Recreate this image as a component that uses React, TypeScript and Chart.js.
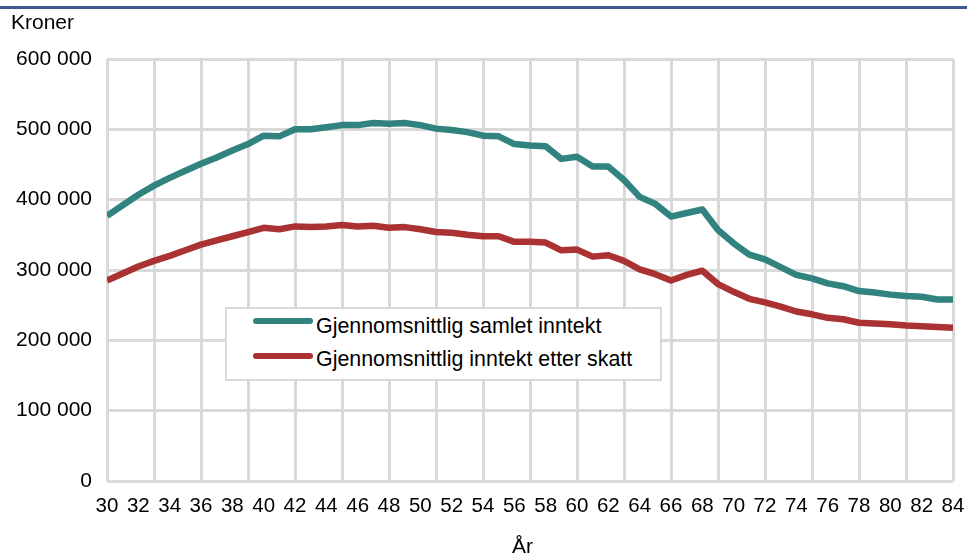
import React, { useEffect, useRef } from 'react';
import { Chart, registerables } from 'chart.js';

Chart.register(...registerables);

const ages = [
  30, 31, 32, 33, 34, 35, 36, 37, 38, 39, 40, 41, 42, 43, 44, 45, 46, 47, 48, 49,
  50, 51, 52, 53, 54, 55, 56, 57, 58, 59, 60, 61, 62, 63, 64, 65, 66, 67, 68, 69,
  70, 71, 72, 73, 74, 75, 76, 77, 78, 79, 80, 81, 82, 83, 84,
];

const samletInntekt = [
  377000, 392000, 407000, 420000, 431000, 441000, 451000, 460000, 470000, 479000,
  491000, 490000, 500000, 500000, 503000, 506000, 506000, 509000, 508000, 509000,
  506000, 501000, 499000, 496000, 491000, 490000, 479000, 477000, 476000, 458000,
  461000, 447000, 447000, 428000, 404000, 394000, 376000, 381000, 386000, 357000,
  338000, 322000, 315000, 304000, 293000, 288000, 281000, 277000, 270000, 268000,
  265000, 263000, 262000, 258000, 258000,
];

const etterSkatt = [
  285000, 295000, 305000, 313000, 320000, 328000, 336000, 342000, 348000, 354000,
  360000, 358000, 362000, 361000, 362000, 364000, 362000, 363000, 360000, 361000,
  358000, 354000, 353000, 350000, 348000, 348000, 340000, 340000, 339000, 328000,
  329000, 319000, 321000, 313000, 301000, 294000, 285000, 293000, 299000, 280000,
  269000, 259000, 254000, 248000, 241000, 237000, 232000, 230000, 225000, 224000,
  223000, 221000, 220000, 219000, 218000,
];

const seriesLabels = ['Gjennomsnittlig samlet inntekt', 'Gjennomsnittlig inntekt etter skatt'];
const seriesColors = ['#31837f', '#aa3232'];
const yUnitLabel = 'Kroner';
const xAxisLabel = 'År';
const yMin = 0;
const yMax = 600000;
const yStep = 100000;
const xLabelStep = 2;
const xGridStep = 3;

const FONT = '"Liberation Sans", Arial, sans-serif';
const GRID = '#d9d9d9';

function formatKr(v: number): string {
  return String(Math.round(v)).replace(/\B(?=(\d{3})+(?!\d))/g, ' ');
}

export default function App() {
  const canvasRef = useRef<HTMLCanvasElement | null>(null);

  useEffect(() => {
    const canvas = canvasRef.current;
    if (!canvas) return;
    const firstAge = ages[0];
    const chart = new Chart(canvas, {
      type: 'line',
      data: {
        datasets: [samletInntekt, etterSkatt].map((series, i) => ({
          label: seriesLabels[i],
          data: series.map((y, j) => ({ x: ages[j], y })),
          borderColor: seriesColors[i],
          backgroundColor: seriesColors[i],
          borderWidth: 6.5,
          pointRadius: 0,
          pointHoverRadius: 0,
          tension: 0,
          borderJoinStyle: 'round' as const,
          borderCapStyle: 'butt' as const,
          fill: false,
        })),
      },
      options: {
        responsive: false,
        animation: false,
        devicePixelRatio: 1,
        layout: { padding: { top: 59, right: 14, left: 0, bottom: 0 } },
        plugins: {
          legend: { display: false },
          tooltip: { enabled: false },
          title: { display: false },
        },
        scales: {
          x: {
            type: 'linear',
            min: ages[0],
            max: ages[ages.length - 1],
            afterBuildTicks: (scale: any) => {
              scale.ticks = ages.map((v) => ({ value: v }));
            },
            afterFit: (scale: any) => {
              scale.height = 73;
              scale.paddingRight = 12;
              scale.paddingLeft = 0;
            },
            ticks: {
              autoSkip: false,
              maxRotation: 0,
              minRotation: 0,
              padding: 13,
              color: '#000',
              font: { family: FONT, size: 20.5 },
              callback: (v: any) => ((Number(v) - firstAge) % xLabelStep === 0 ? String(v) : ''),
            },
            grid: {
              drawTicks: false,
              lineWidth: 3,
              color: (ctx: any) =>
                ctx.tick && (ctx.tick.value - firstAge) % xGridStep === 0 ? GRID : 'rgba(0,0,0,0)',
            },
            border: { display: false },
          },
          y: {
            min: yMin,
            max: yMax,
            afterFit: (scale: any) => {
              scale.width = 107;
            },
            ticks: {
              stepSize: yStep,
              padding: 15,
              color: '#000',
              font: { family: FONT, size: 21 },
              callback: (v: any) => formatKr(Number(v)),
            },
            grid: { drawTicks: false, lineWidth: 3, color: GRID },
            border: { display: false },
          },
        },
      },
    });
    return () => chart.destroy();
  }, []);

  const legendRows = [
    { lineTop: 317.5, textTop: 315.5 },
    { lineTop: 352.5, textTop: 349 },
  ];

  return (
    <div
      style={{
        position: 'absolute',
        left: 0,
        top: 0,
        width: 967,
        height: 554,
        background: '#fff',
        overflow: 'hidden',
        fontFamily: FONT,
        color: '#000',
      }}
    >
      <div style={{ position: 'absolute', left: 0, top: 6, width: 967, height: 3, background: '#3d5a8e' }} />
      <canvas ref={canvasRef} width={967} height={554} style={{ position: 'absolute', left: 0, top: 0 }} />
      <div style={{ position: 'absolute', left: 11, top: 10.5, fontSize: 21, lineHeight: '21px', whiteSpace: 'nowrap' }}>
        {yUnitLabel}
      </div>
      <div style={{ position: 'absolute', left: 512, top: 534.5, fontSize: 21, lineHeight: '21px', whiteSpace: 'nowrap' }}>
        {xAxisLabel}
      </div>
      <div
        style={{
          position: 'absolute',
          left: 225,
          top: 307,
          width: 437,
          height: 74,
          boxSizing: 'border-box',
          border: `2px solid ${GRID}`,
          background: '#fff',
        }}
      />
      {seriesLabels.map((label, i) => (
        <React.Fragment key={label}>
          <div
            style={{
              position: 'absolute',
              left: 253,
              top: legendRows[i].lineTop,
              width: 60,
              height: 6.5,
              borderRadius: 3.5,
              background: seriesColors[i],
            }}
          />
          <div
            style={{
              position: 'absolute',
              left: 316,
              top: legendRows[i].textTop,
              fontSize: 21.4,
              lineHeight: '21px',
              whiteSpace: 'nowrap',
            }}
          >
            {label}
          </div>
        </React.Fragment>
      ))}
    </div>
  );
}
